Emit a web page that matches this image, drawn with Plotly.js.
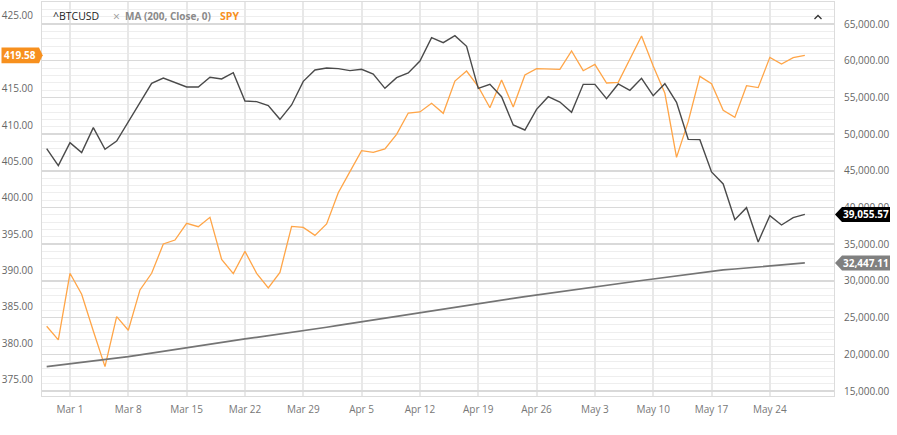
<!DOCTYPE html>
<html>
<head>
<meta charset="utf-8">
<script src="https://cdn.plot.ly/plotly-3.0.1.min.js"></script>
<style>
html,body{margin:0;padding:0;background:#fff;}
#chart{width:897px;height:435px;}
</style>
</head>
<body>
<div id="chart"></div>
<script>
// ---- data ----
const dates = [
  "2021-02-25","2021-02-26",
  "2021-03-01","2021-03-02","2021-03-03","2021-03-04","2021-03-05",
  "2021-03-08","2021-03-09","2021-03-10","2021-03-11","2021-03-12",
  "2021-03-15","2021-03-16","2021-03-17","2021-03-18","2021-03-19",
  "2021-03-22","2021-03-23","2021-03-24","2021-03-25","2021-03-26",
  "2021-03-29","2021-03-30","2021-03-31","2021-04-01","2021-04-02",
  "2021-04-05","2021-04-06","2021-04-07","2021-04-08","2021-04-09",
  "2021-04-12","2021-04-13","2021-04-14","2021-04-15","2021-04-16",
  "2021-04-19","2021-04-20","2021-04-21","2021-04-22","2021-04-23",
  "2021-04-26","2021-04-27","2021-04-28","2021-04-29","2021-04-30",
  "2021-05-03","2021-05-04","2021-05-05","2021-05-06","2021-05-07",
  "2021-05-10","2021-05-11","2021-05-12","2021-05-13","2021-05-14",
  "2021-05-17","2021-05-18","2021-05-19","2021-05-20","2021-05-21",
  "2021-05-24","2021-05-25","2021-05-26","2021-05-27"
];

const spy = [
  382.31, 380.43, 389.60, 386.71, 381.67, 376.76, 383.64, 381.76, 387.31, 389.60,
  393.63, 394.18, 396.47, 396.01, 397.30, 391.52, 389.55, 392.62, 389.60, 387.58,
  389.73, 396.06, 395.92, 394.82, 396.38, 400.69, 403.58, 406.47, 406.24, 406.70,
  408.72, 411.65, 411.79, 412.98, 411.61, 416.05, 417.43, 415.27, 412.38, 416.19,
  412.48, 416.88, 417.75, 417.70, 417.66, 420.18, 417.47, 418.34, 415.78, 415.87,
  419.08, 422.24, 418.12, 414.36, 405.55, 410.46, 416.69, 415.69, 412.02, 411.05,
  415.41, 415.14, 419.31, 418.39, 419.26, 419.58
];

const btc = [
  48017, 45701, 48834, 47472, 50878, 47926, 49061, 51695, 54329, 56917,
  57644, 57008, 56418, 56418, 57735, 57508, 58370, 54511, 54420, 53875,
  52013, 53966, 57190, 58734, 59006, 58915, 58643, 58824, 58189, 56236,
  57689, 58325, 59960, 63138, 62457, 63411, 61958, 56236, 56781, 55101,
  51241, 50560, 53375, 55101, 54370, 52967, 56781, 56781, 54828, 56826,
  55964, 57599, 55237, 56872, 54329, 49288, 49243, 44838, 43203, 38345,
  39980, 35302, 38889, 37618, 38617, 39055.57
];

const ma = [
  18320, 18500, 18690, 18880, 19080, 19280, 19480, 19680, 19920, 20170,
  20420, 20660, 20900, 21140, 21380, 21610, 21850, 22090, 22310, 22530,
  22740, 22960, 23180, 23440, 23690, 23950, 24200, 24450, 24710, 24960,
  25210, 25470, 25720, 25970, 26210, 26460, 26700, 26950, 27180, 27400,
  27630, 27850, 28080, 28310, 28540, 28760, 28970, 29190, 29400, 29620,
  29830, 30050, 30260, 30480, 30700, 30920, 31140, 31350, 31490, 31620,
  31760, 31900, 32030, 32170, 32310, 32447.11
];

const tickDates = ["2021-03-01","2021-03-08","2021-03-15","2021-03-22","2021-03-29","2021-04-05",
  "2021-04-12","2021-04-19","2021-04-26","2021-05-03","2021-05-10","2021-05-17","2021-05-24"];
const tickLabels = ["Mar 1","Mar 8","Mar 15","Mar 22","Mar 29","Apr 5",
  "Apr 12","Apr 19","Apr 26","May 3","May 10","May 17","May 24"];
// 420.00 is hidden behind the last-price tag in the reference
const leftTicks = [375, 380, 385, 390, 395, 400, 405, 410, 415, 425];
const rightTicks = [15000, 20000, 25000, 30000, 35000, 40000, 45000, 50000, 55000, 60000, 65000];

const names = { btc: "^BTCUSD", ma: "MA (200, Close, 0)", spy: "SPY" };

// ---- styling ----
const FONT = "Open Sans, Arial, sans-serif";
const ORANGE = "#F7901E";

const lastSpy = spy[spy.length - 1];
const lastBtc = btc[btc.length - 1];
const lastMa = ma[ma.length - 1];
const fmt2 = v => v.toLocaleString("en-US", {minimumFractionDigits: 2, maximumFractionDigits: 2});

const traces = [
  { x: dates, y: ma, yaxis: "y2", type: "scatter", mode: "lines", name: names.ma,
    line: { color: "#747474", width: 1.7 }, hoverinfo: "skip" },
  { x: dates, y: btc, yaxis: "y2", type: "scatter", mode: "lines", name: names.btc,
    line: { color: "#4a4a4a", width: 1.4 }, hoverinfo: "skip" },
  { x: dates, y: spy, yaxis: "y", type: "scatter", mode: "lines", name: names.spy,
    line: { color: "#FFA547", width: 1.3 }, hoverinfo: "skip" }
];

const layout = {
  width: 897, height: 435,
  margin: { l: 42, r: 63, t: 2, b: 39, pad: 0 },
  paper_bgcolor: "#fff", plot_bgcolor: "#fff",
  showlegend: false,
  font: { family: FONT, size: 10, color: "#666" },
  xaxis: {
    type: "category", range: [-0.4, 67.5],
    tickmode: "array", tickvals: tickDates, ticktext: tickLabels,
    showgrid: true, gridcolor: "#e8e8e8", gridwidth: 2,
    showline: true, linecolor: "#dcdcdc", linewidth: 1, mirror: true,
    ticks: "", zeroline: false, tickfont: { size: 10, color: "#777", family: FONT },
    ticklabelstandoff: 4
  },
  yaxis: {
    range: [372.72, 426.92], tickmode: "array", tickvals: leftTicks,
    tickformat: ".2f", showgrid: false, zeroline: false,
    showline: true, linecolor: "#dcdcdc", linewidth: 1,
    ticks: "", tickfont: { size: 10, color: "#666", family: FONT },
    ticklabelstandoff: 6
  },
  yaxis2: {
    overlaying: "y", side: "right",
    range: [14319, 67997], tickmode: "array", tickvals: rightTicks,
    tickformat: ",.2f", showgrid: true, gridcolor: "#d9d9d9", gridwidth: 1.5,
    zeroline: false, showline: true, linecolor: "#dcdcdc", linewidth: 1,
    ticks: "", tickfont: { size: 10, color: "#666", family: FONT },
    ticklabelstandoff: 7,
    minor: { tickmode: "linear", tick0: 0, dtick: 1000, showgrid: true, gridcolor: "#eeeeee", gridwidth: 1 }
  },
  shapes: [
    { type: "path", layer: "above", xref: "paper", xsizemode: "pixel", xanchor: 0,
      yref: "y", ysizemode: "pixel", yanchor: lastSpy,
      path: "M 0.7,0 L -3,7.8 L -40.5,7.8 L -40.5,-7.8 L -3,-7.8 Z",
      fillcolor: ORANGE, line: { width: 0 } },
    { type: "path", layer: "above", xref: "paper", xsizemode: "pixel", xanchor: 1,
      yref: "y2", ysizemode: "pixel", yanchor: lastBtc,
      path: "M 1,0 L 8,7.5 L 56,7.5 L 56,-7.5 L 8,-7.5 Z",
      fillcolor: "#000", line: { width: 0 } },
    { type: "path", layer: "above", xref: "paper", xsizemode: "pixel", xanchor: 1,
      yref: "y2", ysizemode: "pixel", yanchor: lastMa,
      path: "M 1,0 L 8,7.5 L 56,7.5 L 56,-7.5 L 8,-7.5 Z",
      fillcolor: "#808080", line: { width: 0 } },
    { type: "path", layer: "above", xref: "paper", xsizemode: "pixel", xanchor: 1,
      yref: "paper", ysizemode: "pixel", yanchor: 1,
      path: "M -19.5,-17 L -16,-13.5 L -12.5,-17",
      line: { color: "#333", width: 1.3 } }
  ],
  annotations: [
    { xref: "paper", x: 0, xshift: 9, xanchor: "left", yref: "paper", y: 1, yshift: -14, yanchor: "middle",
      text: names.btc, showarrow: false, font: { family: FONT, size: 10.5, color: "#222" } },
    { xref: "paper", x: 0, xshift: 69, xanchor: "left", yref: "paper", y: 1, yshift: -14, yanchor: "middle",
      text: "×", showarrow: false, font: { family: FONT, size: 12, color: "#999" } },
    { xref: "paper", x: 0, xshift: 81, xanchor: "left", yref: "paper", y: 1, yshift: -14, yanchor: "middle",
      text: "<b>" + names.ma + "</b>", showarrow: false, font: { family: FONT, size: 10, color: "#8a8a8a" } },
    { xref: "paper", x: 0, xshift: 176, xanchor: "left", yref: "paper", y: 1, yshift: -14, yanchor: "middle",
      text: "<b>" + names.spy + "</b>", showarrow: false, font: { family: FONT, size: 10.5, color: ORANGE } },
    { xref: "paper", x: 0, xshift: -22, xanchor: "center", yref: "y", y: lastSpy, yanchor: "middle",
      text: "<b>" + lastSpy.toFixed(2) + "</b>", showarrow: false, font: { family: FONT, size: 10, color: "#fff" } },
    { xref: "paper", x: 1, xshift: 32, xanchor: "center", yref: "y2", y: lastBtc, yanchor: "middle",
      text: "<b>" + fmt2(lastBtc) + "</b>", showarrow: false, font: { family: FONT, size: 10, color: "#fff" } },
    { xref: "paper", x: 1, xshift: 32, xanchor: "center", yref: "y2", y: lastMa, yanchor: "middle",
      text: "<b>" + fmt2(lastMa) + "</b>", showarrow: false, font: { family: FONT, size: 10, color: "#fff" } }
  ]
};

Plotly.newPlot("chart", traces, layout, { staticPlot: true, displayModeBar: false });
</script>
</body>
</html>
